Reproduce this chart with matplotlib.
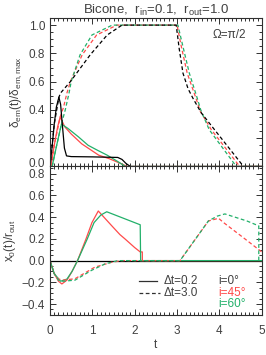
import numpy as np
import matplotlib
matplotlib.use("Agg")
import matplotlib.pyplot as plt
import matplotlib.transforms as mtransforms
from matplotlib.ticker import MultipleLocator

plt.rcParams['font.family'] = ['Liberation Sans', 'DejaVu Sans']
plt.rcParams['mathtext.fontset'] = 'custom'
plt.rcParams['mathtext.rm'] = 'Liberation Sans'
plt.rcParams['mathtext.it'] = 'Liberation Sans:italic'

TXT = '#404040'
RED = '#ff4a4a'
GREEN = '#22b06a'

# --- top panel: normalised emission, dt = 0.2 (solid) ---
t_em_s_i0 = [0.0, 0.05, 0.1, 0.15, 0.21, 0.25, 0.29, 0.34, 0.39, 0.5, 1.0, 1.6, 1.7, 1.8, 1.9, 5.0]
v_em_s_i0 = [0.0, 0.14, 0.30, 0.42, 0.49, 0.44, 0.30, 0.13, 0.075, 0.07, 0.068, 0.064, 0.05, 0.02, 0.0, 0.0]
t_em_s_i45 = [0.02, 0.1, 0.18, 0.24, 0.35, 0.5, 0.75, 1.0, 1.15, 1.4, 1.68, 1.82, 5.0]
v_em_s_i45 = [0.0, 0.15, 0.28, 0.35, 0.28, 0.23, 0.16, 0.11, 0.08, 0.055, 0.02, 0.0, 0.0]
t_em_s_i60 = [0.05, 0.15, 0.27, 0.42, 0.67, 0.9, 1.12, 1.35, 1.6, 1.78, 5.0]
v_em_s_i60 = [0.0, 0.14, 0.30, 0.27, 0.21, 0.15, 0.115, 0.08, 0.035, 0.0, 0.0]

# --- top panel: dt = 3.0 (dashed) ---
t_em_d_i0 = [0.0, 0.1, 0.21, 0.25, 0.48, 0.95, 1.35, 1.7, 2.98, 3.05, 3.14, 3.26, 3.38, 3.57, 4.57, 5.0]
v_em_d_i0 = [0.0, 0.30, 0.49, 0.52, 0.60, 0.79, 0.93, 1.0, 1.0, 0.835, 0.66, 0.55, 0.48, 0.38, 0.0, 0.0]
t_em_d_i45 = [0.02, 0.1, 0.24, 0.32, 0.4, 0.48, 0.76, 1.1, 1.58, 3.0, 3.11, 3.24, 3.45, 3.55, 3.81, 4.48, 5.0]
v_em_d_i45 = [0.0, 0.15, 0.35, 0.42, 0.52, 0.60, 0.79, 0.93, 1.0, 1.0, 0.835, 0.66, 0.48, 0.39, 0.26, 0.0, 0.0]
t_em_d_i60 = [0.05, 0.15, 0.27, 0.36, 0.45, 0.5, 0.71, 0.99, 1.47, 3.02, 3.15, 3.29, 3.48, 3.56, 3.76, 4.4, 5.0]
v_em_d_i60 = [0.0, 0.14, 0.30, 0.40, 0.52, 0.60, 0.79, 0.93, 1.0, 1.0, 0.835, 0.66, 0.48, 0.40, 0.26, 0.0, 0.0]

# --- bottom panel: centroid x0/r_out ---
t_x0_i0 = [0.0, 5.0]
v_x0_i0 = [0.0, 0.0]
t_x0_s_i45 = [0.0, 0.1, 0.2, 0.28, 0.4, 0.52, 0.65, 0.85, 0.99, 1.14, 1.46, 1.65, 1.77, 2.0, 2.13, 2.18, 2.18, 5.0]
v_x0_s_i45 = [0.0, -0.12, -0.19, -0.215, -0.18, -0.1, 0.0, 0.2, 0.35, 0.457, 0.32, 0.24, 0.2, 0.12, 0.08, 0.08, 0.0, 0.0]
t_x0_s_i60 = [0.0, 0.1, 0.25, 0.4, 0.52, 0.65, 0.88, 1.04, 1.2, 1.34, 2.13, 2.14, 5.0]
v_x0_s_i60 = [0.0, -0.12, -0.19, -0.17, -0.1, 0.0, 0.2, 0.35, 0.42, 0.45, 0.33, 0.0, 0.0]
t_x0_d_i45 = [0.0, 0.1, 0.2, 0.31, 0.59, 1.06, 1.46, 1.7, 3.07, 3.74, 3.98, 4.1, 4.57, 5.0]
v_x0_d_i45 = [0.0, -0.12, -0.17, -0.18, -0.167, -0.06, -0.015, 0.0, 0.0, 0.365, 0.39, 0.35, 0.21, 0.08]
t_x0_d_i60 = [0.0, 0.1, 0.2, 0.31, 0.59, 0.98, 1.3, 1.6, 3.07, 3.74, 3.95, 4.13, 4.65, 4.93, 4.93, 5.0]
v_x0_d_i60 = [0.0, -0.12, -0.18, -0.19, -0.18, -0.09, -0.03, 0.0, 0.0, 0.365, 0.41, 0.43, 0.365, 0.32, 0.0, 0.0]

dash = (0, (3, 2))

fig = plt.figure(figsize=(2.66, 3.55), dpi=100)
ax1 = fig.add_axes([0.188, 0.531, 0.796, 0.417])
ax2 = fig.add_axes([0.188, 0.113, 0.796, 0.418])


def style(ax):
    for s in ax.spines.values():
        s.set_color('#303030')
        s.set_linewidth(0.8)
    ax.tick_params(which='both', direction='in', top=True, right=True,
                   colors='#303030', labelcolor=TXT, labelsize=8.5, width=0.7)
    ax.tick_params(which='major', length=4.5)
    ax.tick_params(which='minor', length=2.2)
    ax.xaxis.set_major_locator(MultipleLocator(1))
    ax.xaxis.set_minor_locator(MultipleLocator(0.1))
    ax.yaxis.set_minor_locator(MultipleLocator(0.05))


# top panel: colours first, black on top
ax1.plot(t_em_s_i45, v_em_s_i45, color=RED, lw=0.9)
ax1.plot(t_em_s_i60, v_em_s_i60, color=GREEN, lw=0.9)
ax1.plot(t_em_d_i45, v_em_d_i45, color=RED, lw=0.9, ls=dash)
ax1.plot(t_em_d_i60, v_em_d_i60, color=GREEN, lw=0.9, ls=dash)
ax1.plot(t_em_s_i0, v_em_s_i0, color='black', lw=0.9)
ax1.plot(t_em_d_i0, v_em_d_i0, color='black', lw=0.9, ls=dash)
ax1.set_xlim(0, 5)
ax1.set_ylim(0, 1.047)
style(ax1)
ax1.tick_params(labelbottom=False)
ax1.set_yticks([0, 0.2, 0.4, 0.6, 0.8, 1.0])
ax1.set_yticklabels(['0.0', '0.2', '0.4', '0.6', '0.8', '1.0'])
# lift the lowest label a little so it clears the "0.8" of the lower panel
lift = mtransforms.ScaledTranslation(0, 4 / 100, fig.dpi_scale_trans)
lab0 = ax1.get_yticklabels()[0]
lab0.set_transform(lab0.get_transform() + lift)
ax1.text(4.63, 0.93, 'Ω=π/2', ha='right', va='center', fontsize=8.5, color=TXT)
ax1.set_title('Bicone,  r$_{\\rm in}$=0.1,  r$_{\\rm out}$=1.0', fontsize=9.5, color=TXT, pad=3)
ax1.set_ylabel('δ$_{\\rm em}$(t)/δ$_{\\rm em,max}$', fontsize=8.5, color=TXT, labelpad=3)

# bottom panel: black first, colours on top
ax2.plot(t_x0_i0, v_x0_i0, color='black', lw=0.9)
ax2.plot(t_x0_s_i45, v_x0_s_i45, color=RED, lw=0.9)
ax2.plot(t_x0_s_i60, v_x0_s_i60, color=GREEN, lw=0.9)
ax2.plot(t_x0_d_i45, v_x0_d_i45, color=RED, lw=0.9, ls=dash)
ax2.plot(t_x0_d_i60, v_x0_d_i60, color=GREEN, lw=0.9, ls=dash)
ax2.set_xlim(0, 5)
ax2.set_ylim(-0.5, 0.867)
style(ax2)
ax2.set_yticks([-0.4, -0.2, 0.0, 0.2, 0.4, 0.6, 0.8])
ax2.set_yticklabels(['\u22120.4', '\u22120.2', '0.0', '0.2', '0.4', '0.6', '0.8'])
ax2.set_xticks([0, 1, 2, 3, 4, 5])
ax2.tick_params(axis='x', pad=7)
ax2.set_xlabel('t', fontsize=8.5, color=TXT, labelpad=2)
ax2.set_ylabel('x$_0$(t)/r$_{\\rm out}$', fontsize=8.5, color=TXT, labelpad=3)

# legend written by hand, as in the original
ax2.plot([2.09, 2.53], [-0.187, -0.187], color='#303030', lw=0.9)
ax2.plot([2.09, 2.6], [-0.30, -0.30], color='#303030', lw=0.9, ls=dash)
ax2.text(2.68, -0.187, 'Δt=0.2', fontsize=8.5, color=TXT, va='center')
ax2.text(2.68, -0.30, 'Δt=3.0', fontsize=8.5, color=TXT, va='center')
ax2.text(3.97, -0.187, 'i=0°', fontsize=8.5, color=TXT, va='center')
ax2.text(3.97, -0.30, 'i=45°', fontsize=8.5, color=RED, va='center')
ax2.text(3.97, -0.40, 'i=60°', fontsize=8.5, color=GREEN, va='center')

fig.savefig('out.png', dpi=100)
